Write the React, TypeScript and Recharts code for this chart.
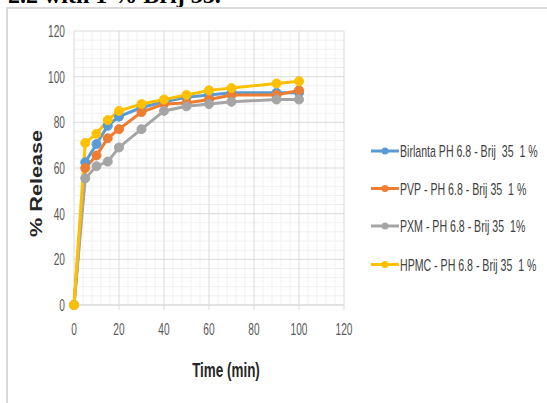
import React from 'react';
import { LineChart, Line, XAxis, YAxis, CartesianGrid } from 'recharts';

const times = [0, 5, 10, 15, 20, 30, 40, 50, 60, 70, 90, 100];
const birlanta = [0, 62.5, 70.5, 78.5, 82.5, 86.5, 89, 91, 92, 93, 93, 93];
const pvp = [0, 60, 65.5, 73, 77, 84.5, 88, 88.5, 90, 92, 92, 94];
const pxm = [0, 55.5, 60.8, 62.8, 69, 77, 85, 87, 88, 89, 90, 90];
const hpmc = [0, 71, 75, 81, 85, 88, 90, 92, 94, 95, 97, 98];

const seriesNames = [
  'Birlanta PH 6.8 - Brij  35  1 %',
  'PVP - PH 6.8 - Brij 35  1 %',
  'PXM - PH 6.8 - Brij 35  1%',
  'HPMC - PH 6.8 - Brij 35  1 %',
];
const seriesColors = ['#5B9BD5', '#ED7D31', '#A5A5A5', '#FFC000'];
const seriesValues = [birlanta, pvp, pxm, hpmc];

const xTicks = [0, 20, 40, 60, 80, 100, 120];
const yTicks = [0, 20, 40, 60, 80, 100, 120];
const minorX = [4, 8, 12, 16, 24, 28, 32, 36, 44, 48, 52, 56, 64, 68, 72, 76, 84, 88, 92, 96, 104, 108, 112, 116];
const minorY = [4, 8, 12, 16, 24, 28, 32, 36, 44, 48, 52, 56, 64, 68, 72, 76, 84, 88, 92, 96, 104, 108, 112, 116];

const FONT = '"Liberation Sans", Arial, sans-serif';

const XTick = (props: any) => {
  const { x, y, payload } = props;
  return (
    <g transform={`translate(${x},${y})`}>
      <text transform="scale(0.78,1.29)" y={17.5} textAnchor="middle" fill="#595959" fontSize={13} fontFamily={FONT}>
        {payload.value}
      </text>
    </g>
  );
};

const YTick = (props: any) => {
  const { x, y, payload } = props;
  return (
    <g transform={`translate(${x},${y})`}>
      <text transform="scale(0.78,1.29)" y={4.6} textAnchor="end" fill="#595959" fontSize={13} fontFamily={FONT}>
        {payload.value}
      </text>
    </g>
  );
};

export default function App() {
  const seriesData = seriesValues.map((vals) => times.map((t, i) => ({ x: t, y: vals[i] })));
  const legendCenters = [151, 188.5, 226, 264.5];
  return (
    <div style={{ position: 'absolute', left: 0, top: 0, width: 547, height: 403, overflow: 'hidden', background: '#fff' }}>
      <div
        style={{
          position: 'absolute',
          left: 8,
          top: -17.5,
          fontFamily: '"Liberation Serif", "Times New Roman", serif',
          fontWeight: 'bold',
          fontSize: 24,
          lineHeight: '24px',
          whiteSpace: 'pre',
          color: '#000',
        }}
      >
        2.2 with 1 % Brij 35.
      </div>
      <div
        style={{
          position: 'absolute',
          left: 6,
          top: 7,
          width: 600,
          height: 500,
          border: '2px solid #d9d9d9',
          boxSizing: 'border-box',
        }}
      />
      <div style={{ position: 'absolute', left: 0, top: 0 }}>
        <LineChart width={547} height={403} margin={{ top: 31, right: 203, bottom: 68, left: 34 }}>
          <CartesianGrid stroke="#f0f0f0" strokeWidth={1} horizontalValues={minorY} verticalValues={minorX} />
          <CartesianGrid stroke="#d9d9d9" strokeWidth={1} horizontalValues={yTicks} verticalValues={xTicks} />
          <XAxis
            type="number"
            dataKey="x"
            domain={[0, 120]}
            ticks={xTicks}
            interval={0}
            height={30}
            axisLine={{ stroke: '#d9d9d9' }}
            tickLine={{ stroke: '#d9d9d9' }}
            tickSize={5}
            tickMargin={2}
            tick={<XTick />}
            allowDuplicatedCategory={false}
          />
          <YAxis
            type="number"
            dataKey="y"
            domain={[0, 120]}
            ticks={yTicks}
            interval={0}
            width={40}
            axisLine={false}
            tickLine={false}
            tickSize={0}
            tickMargin={9}
            tick={<YTick />}
          />
          {seriesData.map((d, i) => (
            <Line
              key={seriesNames[i]}
              data={d}
              dataKey="y"
              name={seriesNames[i]}
              type="linear"
              stroke={seriesColors[i]}
              strokeWidth={3}
              dot={{ r: 4.5, fill: seriesColors[i], stroke: seriesColors[i], strokeWidth: 1 }}
              isAnimationActive={false}
            />
          ))}
        </LineChart>
      </div>
      <svg width={547} height={403} style={{ position: 'absolute', left: 0, top: 0, pointerEvents: 'none' }}>
        <text
          transform="translate(42,183.5) rotate(-90) scale(1.27,1)"
          textAnchor="middle"
          fontFamily={FONT}
          fontWeight="bold"
          fontSize={17}
          fill="#262626"
        >
          % Release
        </text>
        <text
          transform="translate(226,377) scale(0.96,1.4)"
          textAnchor="middle"
          fontFamily={FONT}
          fontWeight="bold"
          fontSize={14}
          fill="#262626"
        >
          Time (min)
        </text>
        {seriesNames.map((name, i) => (
          <g key={name} transform={`translate(0,${legendCenters[i]})`}>
            <line x1={371} x2={399} y1={0} y2={0} stroke={seriesColors[i]} strokeWidth={3} />
            <circle cx={385} cy={0} r={3.5} fill={seriesColors[i]} />
            <text
              transform="translate(400,6) scale(0.815,1.29)"
              fontFamily={FONT}
              fontSize={13}
              fill="#404040"
              style={{ whiteSpace: 'pre' }}
            >
              {name}
            </text>
          </g>
        ))}
      </svg>
    </div>
  );
}
